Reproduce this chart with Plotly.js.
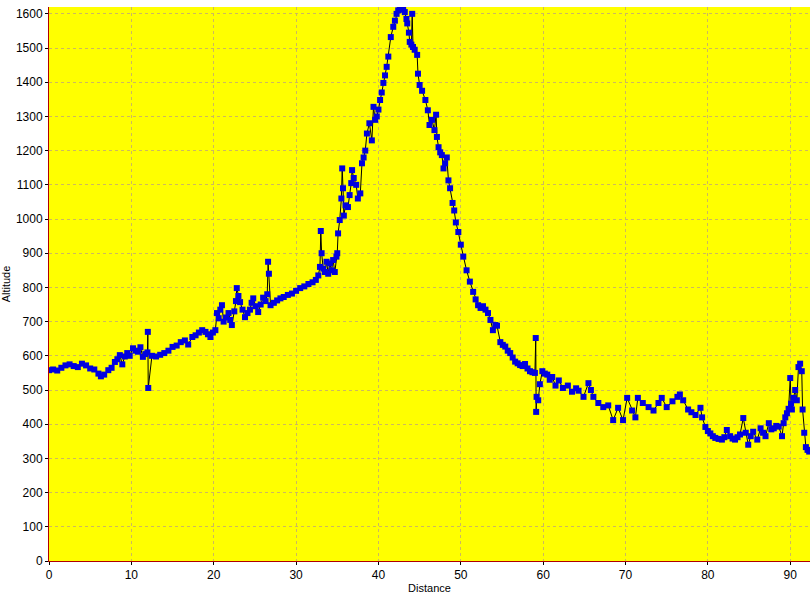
<!DOCTYPE html>
<html><head><meta charset="utf-8">
<script src="https://cdn.plot.ly/plotly-3.0.1.min.js"></script>
<style>html,body{margin:0;padding:0;background:#fff;}</style>
</head><body>
<div id="chart" style="width:812px;height:600px;"></div>
<script>
const distance = [0,0.5,1,1.5,2,2.5,3,3.5,4,4.5,5,5.5,6,6.3,6.7,7.2,7.6,8,8.3,8.6,8.9,9.2,9.5,9.8,10.2,10.5,10.8,11.1,11.4,11.7,11.95,12.0,12.05,12.5,13,13.5,14,14.5,15,15.5,16,16.5,16.9,17.4,17.8,18.2,18.6,19,19.3,19.6,19.9,20.2,20.4,20.6,20.8,21,21.2,21.5,21.8,22.0,22.2,22.5,22.7,22.8,23.0,23.2,23.5,23.8,24.1,24.4,24.6,24.8,25.1,25.4,25.7,26.0,26.3,26.5,26.6,26.7,26.9,27.3,27.7,28.1,28.5,29,29.5,30,30.5,31,31.5,32,32.4,32.7,32.9,33.0,33.1,33.3,33.5,33.7,33.9,34.1,34.3,34.5,34.7,34.9,35.0,35.1,35.3,35.5,35.6,35.7,35.8,36.0,36.3,36.5,36.7,36.8,37.0,37.3,37.5,37.8,38.0,38.2,38.4,38.6,38.9,39.2,39.4,39.6,39.8,40.0,40.2,40.4,40.6,40.8,41.0,41.2,41.5,41.8,42.0,42.2,42.4,42.6,42.8,43.0,43.2,43.4,43.5,43.7,43.8,44.0,44.1,44.2,44.4,44.7,44.8,45.0,45.3,45.7,46.0,46.2,46.5,46.8,47.0,47.1,47.3,47.5,47.7,47.9,48.1,48.3,48.5,48.7,49.0,49.2,49.4,49.7,50.0,50.3,50.7,51.1,51.5,51.8,52.1,52.4,52.7,53.0,53.3,53.6,53.9,54.2,54.4,54.8,55.1,55.4,55.7,56.0,56.3,56.6,56.9,57.2,57.5,57.8,58.1,58.4,58.7,59.0,59.1,59.15,59.2,59.4,59.6,59.9,60.2,60.5,60.8,61.1,61.5,61.9,62.4,63.0,63.5,64.0,64.3,64.9,65.5,65.8,66.1,66.7,67.3,67.9,68.5,69.1,69.7,70.2,70.8,71.2,71.5,72.1,72.8,73.4,74.0,74.4,75.0,75.7,76.3,76.6,77.0,77.6,78.0,78.5,79.1,79.3,79.7,80.0,80.3,80.6,80.9,81.3,81.7,82.0,82.3,82.7,83.0,83.3,83.6,83.9,84.3,84.6,84.9,85.2,85.5,86.0,86.4,86.7,87.0,87.4,87.7,88.0,88.3,88.6,89.0,89.2,89.4,89.6,89.8,90.0,90.1,90.2,90.4,90.6,90.8,91.0,91.2,91.4,91.5,91.7,91.9,92.1,92.3];
const altitude = [558,560,557,565,572,575,570,567,577,572,563,560,548,540,545,558,565,582,590,602,575,598,608,600,622,615,612,625,597,605,610,670,506,600,598,603,608,615,626,630,640,645,633,655,660,668,675,670,663,655,668,675,725,710,735,748,700,712,725,705,690,730,760,798,775,757,735,713,725,735,755,768,745,728,750,770,760,780,875,840,748,755,762,768,772,778,782,790,798,803,810,815,822,835,860,965,900,855,845,875,840,870,850,880,845,890,900,958,997,1060,1148,1090,1010,1040,1035,1070,1105,1143,1120,1100,1060,1075,1163,1180,1200,1250,1280,1230,1328,1290,1300,1320,1348,1370,1398,1420,1445,1475,1532,1562,1580,1600,1610,1618,1612,1615,1605,1585,1572,1545,1518,1510,1600,1503,1495,1480,1425,1392,1375,1348,1318,1275,1290,1260,1305,1240,1210,1195,1187,1148,1163,1180,1113,1090,1047,1025,990,962,925,890,850,817,787,765,748,740,745,735,725,705,675,690,688,640,632,627,615,608,595,583,578,573,570,576,563,555,552,550,652,436,480,470,517,555,548,545,530,538,513,528,506,513,495,505,498,480,520,500,480,462,450,455,412,448,412,477,440,420,477,462,450,440,462,477,450,467,480,487,470,443,435,427,448,420,392,380,373,365,360,357,355,362,383,365,358,355,362,370,418,375,340,365,378,355,388,375,365,403,385,388,395,393,365,403,420,432,445,535,460,443,477,500,470,567,577,555,443,375,333,325,320];
const xTitle = "Distance";
const yTitle = "Altitude";

const trace = {
  x: distance, y: altitude, type: 'scatter', mode: 'lines+markers',
  line: {color: '#000000', width: 1},
  marker: {symbol: 'square', size: 6, color: '#0000E0', line: {width: 0}},
  hoverinfo: 'x+y'
};
const gridColor = '#CDB85E';
const axisColor = '#B00000';
const layout = {
  width: 812, height: 600,
  margin: {l: 49, r: 2, t: 7, b: 39},
  paper_bgcolor: '#FFFFFF', plot_bgcolor: '#FFFF00',
  showlegend: false,
  font: {family: 'Liberation Sans, Arial, sans-serif', size: 12, color: '#000'},
  xaxis: {
    range: [0, 92.4], dtick: 10, tick0: 0,
    showgrid: true, gridcolor: gridColor, griddash: '3px,3px', gridwidth: 1,
    showline: true, linecolor: axisColor, linewidth: 1,
    ticks: 'outside', ticklen: 3, tickcolor: '#000',
    zeroline: false,
    tickfont: {size: 12},
    title: {text: xTitle, font: {size: 11}, standoff: 2}
  },
  yaxis: {
    range: [0, 1620], dtick: 100, tick0: 0,
    showgrid: true, gridcolor: gridColor, griddash: '3px,3px', gridwidth: 1,
    showline: true, linecolor: axisColor, linewidth: 1,
    ticks: 'outside', ticklen: 3, tickcolor: '#000',
    zeroline: false,
    tickfont: {size: 12},
    title: {text: yTitle, font: {size: 11}, standoff: 4}
  }
};
Plotly.newPlot('chart', [trace], layout, {displayModeBar: false, staticPlot: true});
</script>
</body></html>
